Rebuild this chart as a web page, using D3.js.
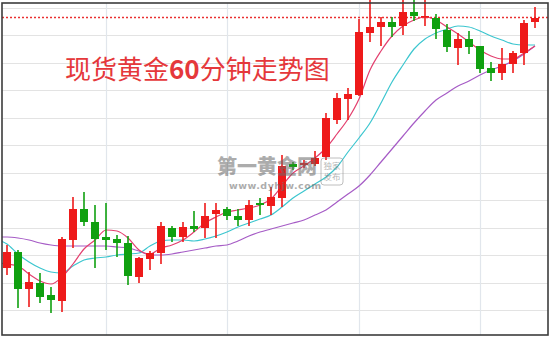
<!DOCTYPE html>
<html><head><meta charset="utf-8">
<script src="https://cdn.jsdelivr.net/npm/d3@7"></script>
<style>html,body{margin:0;padding:0;background:#fff;overflow:hidden}</style>
</head><body>
<svg id="c" width="550" height="339"></svg>
<script>
// 60-minute spot gold candles (index 0..48)
const opens  = [1304.2,1305.8,1302.1,1302.7,1301.5,1300.9,1307.0,1310.1,1308.8,1307.3,1307.1,1306.7,1303.3,1305.1,1305.7,1308.2,1307.3,1308.4,1308.2,1309.6,1310.1,1309.4,1309.0,1310.7,1310.4,1311.2,1314.6,1314.5,1314.6,1315.3,1319.0,1321.1,1321.5,1327.7,1328.3,1328.8,1328.4,1329.8,1329.3,1329.2,1328.0,1326.2,1327.1,1326.4,1324.2,1323.7,1324.6,1325.7,1328.8];
const highs  = [1306.5,1306.0,1303.8,1303.7,1302.3,1307.3,1311.3,1311.8,1310.5,1310.7,1307.5,1307.4,1305.3,1305.9,1308.8,1308.4,1308.8,1309.9,1310.7,1310.7,1310.3,1310.1,1311.0,1311.2,1312.3,1315.5,1314.8,1315.0,1315.9,1319.7,1321.7,1322.2,1329.1,1331.5,1329.3,1329.3,1331.5,1331.5,1331.3,1329.6,1328.6,1327.7,1327.9,1326.4,1324.8,1326.2,1325.9,1329.0,1330.3];
const lows   = [1303.5,1300.2,1300.3,1300.7,1299.7,1299.8,1306.2,1308.4,1304.2,1306.0,1305.3,1302.5,1302.7,1304.0,1304.6,1306.8,1306.8,1307.8,1307.2,1307.2,1309.0,1308.4,1308.4,1309.5,1309.5,1310.3,1314.0,1314.2,1314.4,1315.0,1318.6,1319.0,1321.4,1326.8,1326.4,1327.3,1327.5,1328.9,1328.4,1327.1,1325.8,1324.5,1325.6,1323.7,1322.9,1323.0,1323.7,1324.5,1328.2];
const closes = [1305.8,1302.1,1302.8,1301.3,1301.0,1307.1,1310.1,1308.8,1307.1,1307.0,1306.7,1303.4,1305.2,1305.7,1308.4,1307.3,1308.3,1308.1,1309.4,1310.0,1309.4,1309.0,1310.5,1310.5,1311.3,1314.4,1314.3,1314.7,1315.2,1319.2,1321.2,1321.6,1327.8,1328.3,1328.8,1328.3,1329.8,1329.4,1329.4,1328.1,1326.3,1327.1,1326.3,1324.1,1323.7,1324.6,1325.7,1328.7,1329.2];
// moving averages, index -1..48
const ma5  = [1304.7,1304.6,1304.4,1303.6,1302.9,1302.6,1303.3,1304.6,1306.1,1307.0,1308.0,1307.9,1307.2,1306.0,1305.6,1306.2,1306.5,1307.0,1307.8,1308.7,1309.3,1309.8,1310.0,1310.2,1310.5,1311.1,1312.4,1313.7,1314.4,1315.2,1316.2,1317.6,1319.1,1321.1,1324.0,1325.9,1327.4,1328.4,1329.0,1329.3,1329.0,1328.3,1327.6,1326.8,1326.0,1325.4,1325.1,1325.1,1325.7,1326.4];
const ma10 = [1307.1,1306.6,1305.6,1304.8,1304.2,1303.8,1303.7,1304.4,1305.0,1305.2,1305.3,1305.5,1305.6,1305.7,1306.4,1306.9,1307.0,1307.0,1306.9,1307.1,1307.4,1307.8,1308.3,1308.7,1309.1,1309.5,1310.3,1311.2,1311.9,1312.6,1313.3,1314.3,1315.8,1317.2,1318.7,1320.7,1322.8,1324.5,1326.1,1327.1,1327.7,1328.1,1328.4,1328.3,1327.9,1327.4,1327.0,1326.6,1326.5,1326.5];
const ma20 = [1307.3,1307.3,1307.2,1307.0,1306.7,1306.5,1306.4,1306.4,1306.4,1306.4,1306.4,1306.3,1306.2,1305.9,1305.5,1305.5,1305.6,1305.8,1306.0,1306.2,1306.4,1306.5,1306.9,1307.4,1307.8,1308.1,1308.4,1308.7,1309.0,1309.5,1310.0,1310.8,1311.6,1312.4,1313.5,1314.8,1316.1,1317.4,1318.7,1319.9,1321.0,1321.7,1322.4,1322.9,1323.5,1324.0,1324.4,1324.9,1325.6,1326.4];
const gridPrices = [1300,1302.75,1305.5,1308.25,1311,1313.75,1316.5,1319.25,1322,1324.75,1327.5,1330.25];
const vGridIdx = [9, 20, 32, 43];
const refPrice = 1329.25;
const titleParts = ["现货黄金", "60", "分钟走势图"];
const wmMain = "第一黄金网";
const wmUrl = "www.dyhjw.com";
const wmStamp = ["独家", "发布"];

const svg = d3.select("#c");
const F = {x: 2, y: 3, w: 546, h: 332};
const x = d3.scaleLinear().domain([0, 48]).range([7, 535]);
const y = d3.scaleLinear().domain([1297.5, 1330.7]).range([F.y + F.h, F.y]);

svg.append("rect").attr("width", 550).attr("height", 339).attr("fill", "#fff");
svg.append("clipPath").attr("id", "clip").append("rect")
  .attr("x", F.x).attr("y", F.y).attr("width", F.w).attr("height", F.h);

const g = svg.append("g");
const clipped = g.append("g").attr("clip-path", "url(#clip)");

// horizontal grid
clipped.selectAll("line.h").data(gridPrices).join("line")
  .attr("x1", F.x).attr("x2", F.x + F.w)
  .attr("y1", d => Math.round(y(d)) + 0.5).attr("y2", d => Math.round(y(d)) + 0.5)
  .attr("stroke", "#e3e3e3").attr("stroke-width", 1);
// vertical grid
clipped.selectAll("line.v").data(vGridIdx).join("line")
  .attr("x1", d => Math.round(x(d)) + 0.5).attr("x2", d => Math.round(x(d)) + 0.5)
  .attr("y1", F.y).attr("y2", F.y + F.h)
  .attr("stroke", "#e1e6ec").attr("stroke-width", 1.2);

// title
const t = g.append("text").attr("x", 65).attr("y", 79)
  .attr("font-family", "'Noto Sans CJK SC', sans-serif").attr("font-size", 26)
  .attr("fill", "#e5383b");
titleParts.forEach((s, i) => {
  t.append("tspan").text(s).attr("font-weight", i === 1 ? 700 : 400);
});

// reference dotted line
clipped.append("line").attr("x1", F.x).attr("x2", F.x + F.w)
  .attr("y1", y(refPrice)).attr("y2", y(refPrice))
  .attr("stroke", "#ea3030").attr("stroke-width", 1.3).attr("stroke-dasharray", "2,2");

// candles
const idx = d3.range(opens.length);
const up = i => closes[i] >= opens[i];
const colUp = "#ee1a1a", colDn = "#10a010";
g.selectAll("line.wick").data(idx).join("line")
  .attr("x1", i => x(i)).attr("x2", i => x(i))
  .attr("y1", i => y(highs[i])).attr("y2", i => y(lows[i]))
  .attr("stroke", i => up(i) ? colUp : colDn).attr("stroke-width", 1.6);
const bw = 8;
g.selectAll("rect.body").data(idx).join("rect")
  .attr("x", i => x(i) - bw / 2)
  .attr("y", i => y(Math.max(opens[i], closes[i])))
  .attr("width", bw)
  .attr("height", i => Math.max(1.5, Math.abs(y(opens[i]) - y(closes[i]))))
  .attr("fill", i => up(i) ? colUp : colDn);

// moving averages
const lineGen = d3.line().x((d, i) => x(i - 1)).y(d => y(d)).curve(d3.curveMonotoneX);
[[ma20, "#a65cc6"], [ma10, "#3cc6cf"], [ma5, "#e3406f"]].forEach(([arr, c]) => {
  clipped.append("path").attr("d", lineGen(arr)).attr("fill", "none")
    .attr("stroke", c).attr("stroke-width", 1.2);
});

// watermark
const wm = g.append("g").attr("opacity", 0.55);
wm.append("text").attr("x", 217).attr("y", 174).text(wmMain)
  .attr("font-family", "'Noto Sans CJK SC', sans-serif").attr("font-weight", 900)
  .attr("font-size", 20).attr("fill", "#6a6a6a");
wm.append("text").attr("x", 229).attr("y", 189).text(wmUrl)
  .attr("font-family", "'DejaVu Sans', sans-serif").attr("font-weight", 700)
  .attr("font-size", 9.5).attr("letter-spacing", 0.5).attr("fill", "#6a6a6a");
wm.append("rect").attr("x", 321).attr("y", 158).attr("width", 22).attr("height", 27)
  .attr("rx", 3).attr("fill", "none").attr("stroke", "#8a8a8a").attr("stroke-width", 1);
wmStamp.forEach((s, i) => {
  wm.append("text").attr("x", 332).attr("y", 169 + i * 11).attr("text-anchor", "middle")
    .text(s).attr("font-family", "'Noto Sans CJK SC', sans-serif")
    .attr("font-size", 8.5).attr("fill", "#7a7a7a");
});

// frame
g.append("rect").attr("x", F.x).attr("y", F.y).attr("width", F.w).attr("height", F.h)
  .attr("fill", "none").attr("stroke", "#3c3c3c").attr("stroke-width", 1.6);
</script>
</body></html>
